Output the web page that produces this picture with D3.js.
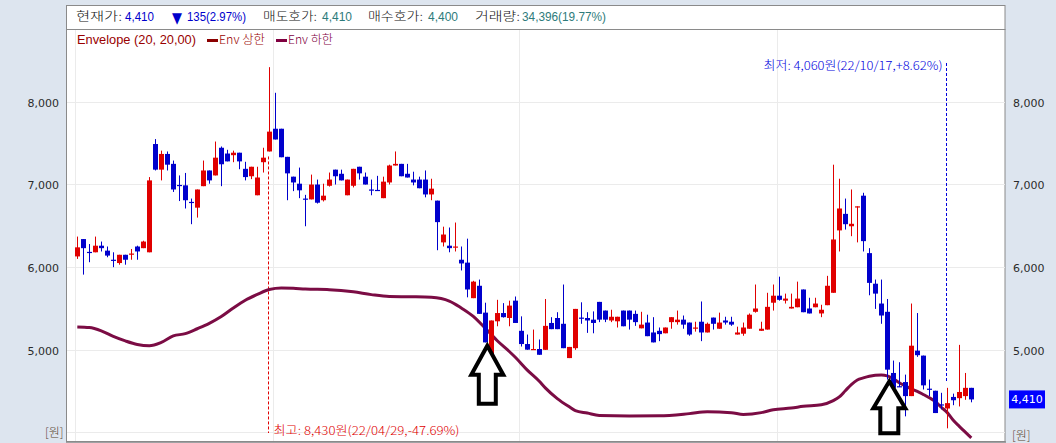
<!DOCTYPE html>
<html><head><meta charset="utf-8">
<script src="https://cdn.jsdelivr.net/npm/d3@7"></script>
<style>body{margin:0;background:#dde5ef}svg{display:block}</style>
</head><body><svg id="c" width="1056" height="443"></svg>
<script>
// ---- data ----
const open  = [6140,6350,6195,6190,6270,6210,6100,6060,6160,6170,6260,6240,6190,7500,7190,7380,7260,7005,7000,6800,6730,6990,7180,7120,7455,7385,7365,7395,7200,7110,6880,7280,7410,7685,7685,7345,7105,7020,6840,6830,7010,6820,6995,7190,7140,6880,6995,7225,7105,6950,6945,6845,7035,7240,7260,7140,7070,7070,7070,6890,6815,6310,6270,6255,6100,6065,5635,5785,5460,4900,5355,5455,5395,5605,5240,5080,5015,5020,5010,5335,5395,5325,4910,5030,5400,5395,5375,5590,5485,5365,5355,5485,5485,5445,5270,5340,5220,5240,5210,5345,5345,5375,5340,5275,5350,5220,5400,5265,5365,5350,5195,5205,5265,5470,5240,5255,5580,5665,5605,5510,5525,5740,5510,5525,5450,5550,5700,6455,6655,6505,6740,6875,6180,5810,5570,5470,4730,4570,4620,4450,5000,4940,4540,4515,4350,4300,4440,4425,4450,4550];
const high  = [6380,6350,6290,6380,6320,6260,6190,6160,6160,6230,6270,6330,7100,7560,7420,7410,7300,7120,7150,6840,6950,7300,7180,7530,7470,7430,7420,7395,7285,7225,7225,7455,8430,8120,7685,7345,7105,7215,6885,7130,7070,7020,7155,7190,7190,7070,7200,7225,7155,7070,7115,7105,7250,7410,7260,7260,7165,7105,7180,7080,6815,6500,6490,6550,6260,6355,5845,5860,5580,5365,5615,5575,5605,5655,5415,5195,5255,5135,5625,5405,5465,5800,5045,5505,5585,5465,5475,5590,5485,5495,5410,5485,5485,5485,5470,5435,5405,5280,5280,5405,5485,5425,5340,5350,5595,5340,5400,5460,5410,5410,5290,5340,5450,5800,5350,5700,5800,5895,5690,5690,5835,5740,5640,5640,5555,5905,7250,7080,6840,6950,6746,6910,6240,5860,5860,5625,4880,4860,4710,5570,5455,4940,4650,4515,4490,4550,4480,5070,4730,4550];
const low   = [6110,5920,6070,6190,6200,6130,6010,6040,6040,6100,6100,6240,6190,7180,7060,7180,6920,6810,6720,6530,6610,6990,7020,7120,6990,7290,7280,7195,7060,7075,6880,7155,7410,7555,7340,6820,6930,6845,6505,6830,6780,6805,6985,7010,7060,6880,6975,7070,7010,6880,6940,6845,7010,7240,7110,7095,7000,6965,6855,6820,6215,6260,6190,6200,5970,5645,5635,5445,5100,4900,5295,5400,5295,5335,5050,5010,5015,4950,5010,5260,5260,5030,4910,5010,5325,5215,5210,5345,5345,5345,5280,5295,5255,5300,5270,5175,5100,5115,5210,5265,5315,5265,5180,5230,5115,5220,5255,5265,5315,5300,5195,5180,5265,5460,5240,5255,5485,5605,5570,5510,5525,5465,5450,5525,5405,5550,5700,6200,6465,6385,6310,6200,5670,5505,5325,4650,4550,4560,4205,4450,4925,4530,4450,4245,4290,4060,4340,4325,4405,4375];
const close = [6250,6240,6190,6270,6240,6150,6095,6160,6100,6175,6200,6320,7060,7190,7380,7250,6950,7000,6820,6790,6950,7180,7060,7335,7255,7290,7395,7290,7100,7225,7095,7335,7650,7555,7340,7145,7035,6940,6835,7010,6790,6875,7070,7110,7060,7070,7200,7145,7010,6945,6940,7045,7240,7260,7110,7095,7035,6965,6890,6960,6555,6405,6240,6260,6055,5740,5835,5445,5100,5365,5455,5405,5545,5335,5080,5012,5020,4950,5300,5260,5260,5030,5045,5505,5395,5365,5335,5375,5375,5410,5410,5295,5375,5345,5315,5175,5100,5200,5280,5405,5375,5315,5195,5280,5220,5325,5325,5340,5340,5315,5220,5280,5435,5510,5265,5530,5665,5615,5630,5530,5630,5465,5450,5570,5495,5785,6345,6720,6530,6535,6746,6325,5820,5690,5425,4770,4550,4565,4450,5060,4945,4580,4535,4245,4345,4365,4400,4500,4550,4410];

// Envelope lower band (Env 하한), read at candle indices
const envIdx = [0,2,4,6,8,10,12,14,16,18,20,22,24,26,28,30,32,34,36,38,42,46,49,52,56,59,62,64,66,68,69,70,72,73,75,77,78,80,82,83,85,87,92,97,102,105,109,111,114,116,119,121,124,126,127,128,129,130,131,132,134,135,136,137,138,139,140,141,142,143,144,145,146,147,148,149];
const envVal = [5287,5280,5240,5173,5118,5075,5060,5100,5178,5206,5265,5330,5412,5516,5610,5680,5740,5758,5755,5745,5738,5712,5678,5655,5652,5645,5600,5516,5415,5270,5194,5120,4990,4920,4765,4630,4550,4420,4320,4275,4245,4215,4210,4212,4238,4260,4250,4228,4250,4286,4305,4326,4345,4395,4440,4515,4590,4645,4670,4690,4705,4695,4660,4612,4575,4538,4508,4470,4430,4385,4315,4250,4157,4084,4015,3945];

const yTickVals  = [5000,6000,7000,8000];
const yGridVals  = [4000,5000,6000,7000,8000];
const yTickLabels = ["5,000","6,000","7,000","8,000"];
const gridIdx = [0,33,74,117];   // first candle of each period
const hiIdx = 32, loIdx = 145, lastIdx = 149;
const lastPrice = 4410;
const headerItems = [
  {t:"현재가:", x:76, w:46, c:"#111"},
  {t:"4,410", x:125, w:29, c:"#0000cc"},
  {t:"▼", x:172, w:10, c:"#0000cc"},
  {t:"135(2.97%)", x:187, w:59, c:"#0000cc"},
  {t:"매도호가:", x:263, w:54, c:"#111"},
  {t:"4,410", x:322, w:30, c:"#2e7b7b"},
  {t:"매수호가:", x:368, w:55, c:"#111"},
  {t:"4,400", x:428, w:30, c:"#2e7b7b"},
  {t:"거래량:", x:475, w:45, c:"#111"},
  {t:"34,396(19.77%)", x:522, w:84, c:"#2e7b7b"}
];

// ---- drawing ----
const svg = d3.select("#c");
const W = 1056, H = 443;
const x = d3.scaleLinear().domain([0,149]).range([77.3,971.3]);
const y = d3.scaleLinear().domain([4000,8000]).range([433.3,102.7]);
const FONT_K = '"Noto Sans CJK KR", "DejaVu Sans", sans-serif';
const FONT_N = '"Liberation Sans Narrow", "Liberation Sans", "DejaVu Sans", sans-serif';

svg.append("rect").attr("width",W).attr("height",H).attr("fill","#dde5ef");
// header box
svg.append("rect").attr("x",66.5).attr("y",5.5).attr("width",938.5).attr("height",24)
  .attr("fill","#fff").attr("stroke","#8a8a8a");
// plot panel
svg.append("rect").attr("x",66.5).attr("y",29.5).attr("width",938.5).attr("height",412)
  .attr("fill","#fff").attr("stroke","#8a8a8a");
svg.append("line").attr("x1",66).attr("x2",1006).attr("y1",442).attr("y2",442).attr("stroke","#8a8a8a").attr("stroke-width",1.5);

// header text
headerItems.forEach(d=>{
  const isK = /[가-힣]/.test(d.t);
  svg.append("text").attr("x",d.x).attr("y",d.t==="▼"?23:21)
    .attr("font-family", d.t==="▼" ? '"DejaVu Sans"' : (isK?FONT_K:FONT_N))
    .attr("font-size", d.t==="▼"?15:(isK?12:13))
    .attr("font-weight", isK?300:400)
    .attr("textLength",d.w).attr("lengthAdjust","spacingAndGlyphs")
    .attr("fill",d.c).text(d.t);
});

// grid
const grid = svg.append("g");
grid.selectAll(".vg").data(gridIdx).join("line")
  .attr("x1",d=>Math.round(x(d))-1.5).attr("x2",d=>Math.round(x(d))-1.5)
  .attr("y1",30).attr("y2",441).attr("stroke","#ebebeb");
grid.selectAll(".hg").data(yGridVals).join("line")
  .attr("x1",67).attr("x2",1005)
  .attr("y1",d=>Math.round(y(d))-0.5).attr("y2",d=>Math.round(y(d))-0.5)
  .attr("stroke","#ebebeb");

// legend
svg.append("text").attr("x",77).attr("y",44).attr("font-family",FONT_N).attr("font-size",13)
  .attr("textLength",119).attr("lengthAdjust","spacingAndGlyphs").attr("fill","#990000").text("Envelope (20, 20,00)");
svg.append("rect").attr("x",207).attr("y",39).attr("width",11).attr("height",3).attr("fill","#8b0000");
svg.append("text").attr("x",219).attr("y",44).attr("font-family",FONT_K).attr("font-size",12).attr("font-weight",300)
  .attr("textLength",46).attr("lengthAdjust","spacingAndGlyphs").attr("fill","#990000").text("Env 상한");
svg.append("rect").attr("x",276).attr("y",39).attr("width",11).attr("height",3).attr("fill","#800040");
svg.append("text").attr("x",288).attr("y",44).attr("font-family",FONT_K).attr("font-size",12).attr("font-weight",300)
  .attr("textLength",45).attr("lengthAdjust","spacingAndGlyphs").attr("fill","#800040").text("Env 하한");

// axis labels
const axL = d3.axisLeft(y).tickValues(yTickVals).tickSize(0).tickFormat((d,i)=>yTickLabels[i]);
const gL = svg.append("g").attr("transform","translate(62,0)").call(axL);
const axR = d3.axisRight(y).tickValues(yTickVals).tickSize(0).tickFormat((d,i)=>yTickLabels[i]);
const gR = svg.append("g").attr("transform","translate(1010,0)").call(axR);
[gL,gR].forEach(g=>{
  g.select(".domain").remove();
  g.selectAll("text").attr("font-family",'"DejaVu Sans", sans-serif').attr("font-size",11).attr("fill","#2b2b2b");
});
svg.append("text").attr("x",45).attr("y",437).attr("font-family",FONT_K).attr("font-size",12).attr("font-weight",300).attr("fill","#5a4630").text("[원]");
svg.append("text").attr("x",1012).attr("y",440).attr("font-family",FONT_K).attr("font-size",12).attr("font-weight",300).attr("fill","#5a4630").text("[원]");

// plot clip
svg.append("clipPath").attr("id","pc").append("rect").attr("x",67).attr("y",30).attr("width",938).attr("height",411);
const plot = svg.append("g").attr("clip-path","url(#pc)");

// dotted markers for high / low
const hx = Math.round(x(hiIdx))-0.5;
plot.append("line").attr("x1",hx).attr("x2",hx).attr("y1",y(low[hiIdx])+5).attr("y2",433)
  .attr("stroke","#e00000").attr("stroke-dasharray","3,2");
const lx = Math.round(x(loIdx))-0.5;
plot.append("line").attr("x1",lx).attr("x2",lx).attr("y1",63).attr("y2",y(high[loIdx])-6)
  .attr("stroke","#0000dd").attr("stroke-dasharray","3,2");

// envelope
const envData = envIdx.map((d,i)=>({i:d, v:envVal[i]}));
plot.append("path").datum(envData)
  .attr("d", d3.line().x(d=>x(d.i)).y(d=>y(d.v)).curve(d3.curveMonotoneX))
  .attr("fill","none").attr("stroke","#7b0c44").attr("stroke-width",3);

// candles
const cd = open.map((o,i)=>({i, o, h:high[i], l:low[i], c:close[i]}));
const col = d=> d.c>=d.o ? "#e00000" : "#0000cc";
const cg = plot.selectAll(".cnd").data(cd).join("g");
cg.append("line")
  .attr("x1",d=>Math.round(x(d.i))+0.5).attr("x2",d=>Math.round(x(d.i))+0.5)
  .attr("y1",d=>y(d.h)).attr("y2",d=>y(d.l)).attr("stroke",col).attr("stroke-width",1);
cg.append("rect")
  .attr("x",d=>Math.round(x(d.i))-2).attr("width",5)
  .attr("y",d=>Math.min(y(d.o),y(d.c)))
  .attr("height",d=>Math.max(1.2,Math.abs(y(d.o)-y(d.c))))
  .attr("fill",col);

// annotation texts
svg.append("text").attr("x",hx+5).attr("y",435).attr("font-family",FONT_K).attr("font-size",12).attr("font-weight",300)
  .attr("textLength",186).attr("lengthAdjust","spacingAndGlyphs").attr("fill","#e00000")
  .text("최고: 8,430원(22/04/29,-47.69%)");
svg.append("text").attr("x",lx-4).attr("y",70).attr("text-anchor","end").attr("font-family",FONT_K).attr("font-size",12).attr("font-weight",300)
  .attr("textLength",179).attr("lengthAdjust","spacingAndGlyphs").attr("fill","#0000dd")
  .text("최저: 4,060원(22/10/17,+8.62%)");

// hand-drawn arrows pointing at two candles (tip in data units)
const arrows = [{i:68, v:5060, hh:29, hw:16, sw:8.5, len:58},{i:135, v:4629, hh:27, hw:16, sw:9, len:52}];
arrows.forEach(a=>{
  const tx = x(a.i)+2, ty = y(a.v);
  const p = d3.path();
  p.moveTo(tx,ty); p.lineTo(tx+a.hw,ty+a.hh); p.lineTo(tx+a.sw,ty+a.hh); p.lineTo(tx+a.sw,ty+a.len);
  p.lineTo(tx-a.sw,ty+a.len); p.lineTo(tx-a.sw,ty+a.hh); p.lineTo(tx-a.hw,ty+a.hh); p.closePath();
  svg.append("path").attr("d",p.toString()).attr("fill","#fff").attr("stroke","#000")
    .attr("stroke-width",4).attr("stroke-linejoin","miter");
});

// last price box on right axis
const ly = y(lastPrice);
svg.append("rect").attr("x",1009).attr("y",ly-9).attr("width",36).attr("height",18).attr("fill","#0000ff");
svg.append("text").attr("x",1027).attr("y",ly+4).attr("text-anchor","middle").attr("font-family",'"DejaVu Sans", sans-serif')
  .attr("font-size",11).attr("fill","#fff").text("4,410");
</script></body></html>
